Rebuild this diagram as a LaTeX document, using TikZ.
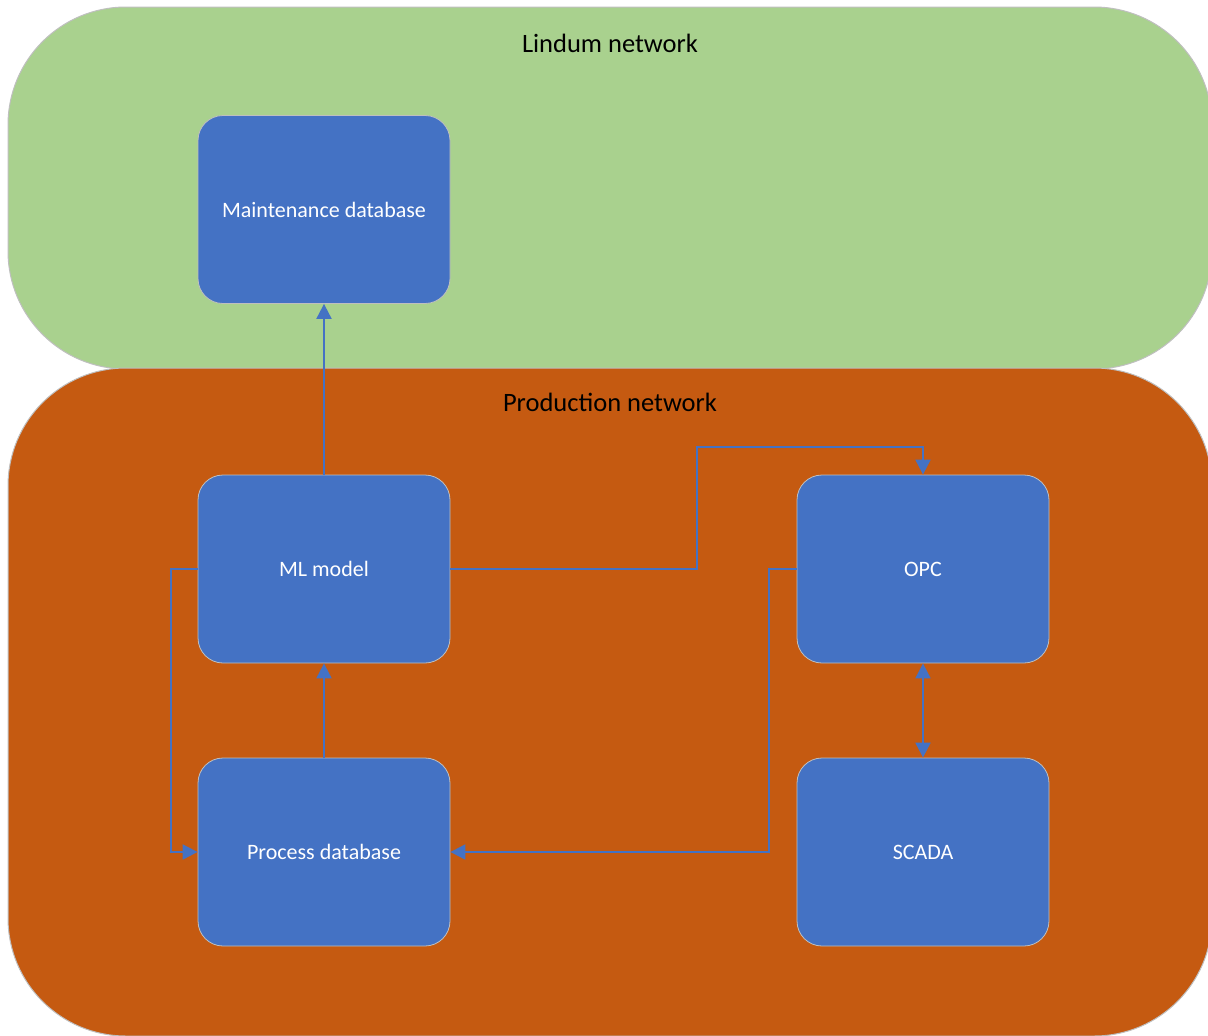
\documentclass[tikz,border=0pt]{standalone}
\usepackage{fontspec}
\setmainfont{Carlito}
\usetikzlibrary{arrows.meta}
\definecolor{netgreen}{HTML}{A9D18E}
\definecolor{netorange}{HTML}{C55A11}
\definecolor{boxblue}{HTML}{4472C4}
\definecolor{rim}{HTML}{BFBFBF}
\begin{document}
\begin{tikzpicture}[x=1pt,y=-1pt,
  region/.style={draw=rim,line width=1pt,rounded corners=118pt},
  block/.style={draw=rim,line width=0.8pt,fill=boxblue,rounded corners=25pt,
    minimum width=252pt,minimum height=188pt,inner sep=0pt,
    text=white,font=\fontsize{22}{26}\selectfont},
  title/.style={text=black,font=\fontsize{26.5}{30}\selectfont},
  link/.style={draw=boxblue,line width=2pt,-{Triangle[width=15pt,length=15pt]}},
  dlink/.style={draw=boxblue,line width=2pt,{Triangle[width=15pt,length=15pt]}-{Triangle[width=15pt,length=15pt]}}]
\useasboundingbox (0,0) rectangle (1208,1036);
% network zones
\begin{scope}
\clip (0,0) rectangle (1208,1036);
\path[region,fill=netgreen] (8,7) rectangle (1212,369);
\path[region,fill=netorange] (8,368) rectangle (1212,1036);
\end{scope}
\node[title] (lindum) at (610,43) {Lindum network};
\node[title] (prod) at (610,402) {Production network};
% systems
\node[block] (maint) at (324,209.5) {Maintenance database};
\node[block] (ml) at (324,569) {ML model};
\node[block] (proc) at (324,852) {Process database};
\node[block] (opc) at (923,569) {OPC};
\node[block] (scada) at (923,852) {SCADA};
% data flows
\draw[link] (ml.north) -- (maint.south);
\draw[link] (proc.north) -- (ml.south);
\draw[link] (ml.east) -- (697,569) -- (697,447) -- (923,447) -- (opc.north);
\draw[link] (opc.west) -- (769,569) -- (769,852) -- (proc.east);
\draw[link] (ml.west) -- (171,569) -- (171,852) -- (proc.west);
\draw[dlink] (opc.south) -- (scada.north);
\end{tikzpicture}
\end{document}
